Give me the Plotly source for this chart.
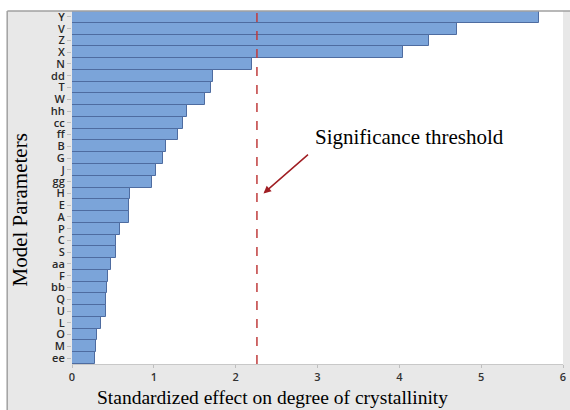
import plotly.graph_objects as go

params = ["Y", "V", "Z", "X", "N", "dd", "T", "W", "hh", "cc", "ff", "B", "G", "J", "gg",
          "H", "E", "A", "P", "C", "S", "aa", "F", "bb", "Q", "U", "L", "O", "M", "ee"]
effects = [5.71, 4.71, 4.36, 4.04, 2.20, 1.72, 1.70, 1.63, 1.41, 1.36, 1.30, 1.15, 1.11, 1.03, 0.98,
           0.71, 0.70, 0.70, 0.59, 0.54, 0.54, 0.48, 0.44, 0.43, 0.42, 0.42, 0.35, 0.31, 0.29, 0.28]
threshold = 2.26
x_ticks = [0, 1, 2, 3, 4, 5, 6]

fig = go.Figure()
fig.add_trace(go.Bar(
    x=effects, y=params, orientation="h",
    marker=dict(color="rgb(123,164,217)", line=dict(color="rgb(78,108,160)", width=1)),
    width=1.0,
))

fig.add_shape(type="line", xref="x", yref="paper", x0=threshold, x1=threshold, y0=0, y1=1,
              line=dict(color="rgb(192,60,60)", width=1.5, dash="dash"))

# outer white strips (frame)
fig.add_shape(type="rect", xref="paper", yref="paper", x0=-0.2, x1=1.05, y0=1.0, y1=1.1,
              fillcolor="white", line=dict(width=0), layer="above")
fig.add_shape(type="line", xref="paper", yref="paper", x0=-0.132, x1=1.05, y0=1.0, y1=1.0,
              line=dict(color="rgb(160,160,160)", width=1.5))
fig.add_shape(type="rect", xref="paper", yref="paper", x0=-0.2, x1=-0.132, y0=-0.2, y1=1.1,
              fillcolor="white", line=dict(width=0), layer="above")
fig.add_shape(type="line", xref="paper", yref="paper", x0=-0.132, x1=-0.132, y0=-0.2, y1=1.0,
              line=dict(color="rgb(160,160,160)", width=1.5))

fig.add_annotation(xref="paper", yref="paper", x=0.687, y=0.643, xanchor="center", yanchor="middle",
                   text="Significance threshold", showarrow=False,
                   font=dict(family="Liberation Serif", size=21, color="black"))
fig.add_annotation(xref="x", yref="y", x=2.34, y="H", ax=46, ay=-40, text="",
                   showarrow=True, arrowhead=2, arrowsize=1, arrowwidth=1.5, arrowcolor="rgb(160,30,35)")

fig.add_annotation(xref="paper", yref="paper", x=-0.105, y=0.436, xanchor="center", yanchor="middle",
                   text="Model Parameters", textangle=-90, showarrow=False,
                   font=dict(family="Liberation Serif", size=21, color="black"))
fig.add_annotation(xref="paper", yref="paper", x=0.409, y=-0.095, xanchor="center", yanchor="middle",
                   text="Standardized effect on degree of crystallinity", showarrow=False,
                   font=dict(family="Liberation Serif", size=19.5, color="black"))

fig.update_layout(
    width=570, height=410,
    margin=dict(l=72, r=4, t=11, b=46),
    paper_bgcolor="rgb(232,232,232)",
    plot_bgcolor="white",
    showlegend=False,
    bargap=0,
    xaxis=dict(range=[0, 6], tickvals=x_ticks, showgrid=False, zeroline=False,
               showline=True, linecolor="rgb(200,200,200)", linewidth=1,
               ticks="outside", ticklen=3, tickcolor="rgb(190,190,190)",
               tickfont=dict(family="Open Sans", size=11, weight=600, color="rgb(50,50,50)")),
    yaxis=dict(autorange="reversed", tickmode="array", tickvals=params, ticktext=params,
               showgrid=False, zeroline=False,
               showline=False, ticks="outside", ticklen=4, tickcolor="rgb(190,190,190)",
               tickfont=dict(family="Open Sans", size=11, weight=600, color="rgb(40,40,40)")),
)

fig.write_html("out.html", config={"displayModeBar": False},
               post_script="document.body.style.margin='0';")
